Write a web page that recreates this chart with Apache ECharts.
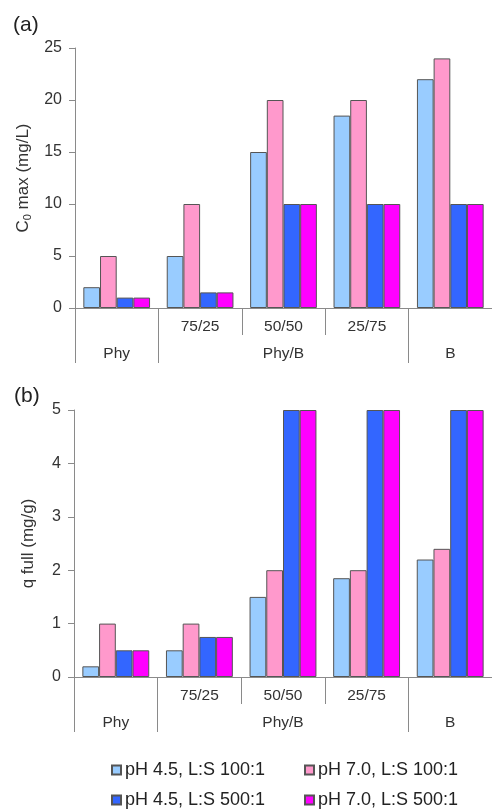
<!DOCTYPE html>
<html>
<head>
<meta charset="utf-8">
<script src="https://cdn.jsdelivr.net/npm/echarts@6/dist/echarts.min.js"></script>
<style>
  html, body { margin: 0; padding: 0; background: #fff; }
  #chart { width: 492px; height: 809px; }
</style>
</head>
<body>
<div id="chart"></div>
<script>
// Blend ratios (first row) and material groups (second row) of the category axis
const blendLabels = ['', '75/25', '50/50', '25/75', ''];
const groupLabels = ['Phy', '', 'Phy/B', '', 'B'];
const seriesNames = ['pH 4.5, L:S 100:1', 'pH 7.0, L:S 100:1', 'pH 4.5, L:S 500:1', 'pH 7.0, L:S 500:1'];
const seriesColors = ['#99CCFF', '#FF99CC', '#3366FF', '#FF00FF'];

// (a) C0 max (mg/L)
const c0_ph45_100 = [2, 5, 15, 18.5, 22];
const c0_ph70_100 = [5, 10, 20, 20, 24];
const c0_ph45_500 = [1, 1.5, 10, 10, 10];
const c0_ph70_500 = [1, 1.5, 10, 10, 10];

// (b) q full (mg/g)
const q_ph45_100 = [0.2, 0.5, 1.5, 1.85, 2.2];
const q_ph70_100 = [1, 1, 2, 2, 2.4];
const q_ph45_500 = [0.5, 0.75, 5, 5, 5];
const q_ph70_500 = [0.5, 0.75, 5, 5, 5];

const FONT = 'Liberation Sans, Arial, sans-serif';
const AXIS_GRAY = '#8a8a8a';
const TEXT = '#333';

// Group separators sit at the start of Phy, Phy/B and B
const groupTicks = (i) => i === 0 || i === 1 || i === 4 || i === 5;

function blendAxis(gridIndex) {
  return {
    type: 'category', gridIndex, position: 'bottom', offset: 0,
    data: blendLabels,
    axisLine: { show: true, lineStyle: { color: AXIS_GRAY, width: 1 } },
    axisTick: { show: true, length: 27, lineStyle: { color: AXIS_GRAY, width: 1 } },
    axisLabel: { interval: 0, margin: 11, fontSize: 15.5, color: TEXT, fontFamily: FONT }
  };
}
function groupAxis(gridIndex) {
  return {
    type: 'category', gridIndex, position: 'bottom', offset: 0,
    data: groupLabels,
    axisLine: { show: false },
    axisTick: { show: true, length: 55, interval: groupTicks, lineStyle: { color: AXIS_GRAY, width: 1 } },
    axisLabel: { interval: 0, margin: 38, fontSize: 15.5, color: TEXT, fontFamily: FONT }
  };
}
function valueAxis(gridIndex, max, interval, name, rich, gap) {
  return {
    type: 'value', gridIndex, min: 0, max, interval,
    name, nameLocation: 'middle', nameGap: gap, nameRotate: 90,
    nameTextStyle: { fontFamily: FONT, color: TEXT, fontSize: 17, rich },
    splitLine: { show: false },
    axisLine: { show: true, lineStyle: { color: AXIS_GRAY, width: 1 } },
    axisTick: { show: true, length: 6, lineStyle: { color: AXIS_GRAY } },
    axisLabel: { fontSize: 16, color: TEXT, fontFamily: FONT, margin: 13 }
  };
}

const panelA = [c0_ph45_100, c0_ph70_100, c0_ph45_500, c0_ph70_500];
const panelB = [q_ph45_100, q_ph70_100, q_ph45_500, q_ph70_500];

function barSeries(values, idx, axisIdx) {
  return {
    name: seriesNames[idx], type: 'bar',
    xAxisIndex: axisIdx, yAxisIndex: axisIdx === 0 ? 0 : 1,
    data: values,
    barGap: '0%', barCategoryGap: '20%',
    itemStyle: { color: seriesColors[idx], borderColor: '#555', borderWidth: 1 },
    emphasis: { disabled: true }
  };
}

const series = [];
panelA.forEach((v, i) => series.push(barSeries(v, i, 0)));
panelB.forEach((v, i) => series.push(barSeries(v, i, 2)));

function legendColumn(left, names) {
  return {
    orient: 'vertical', left, top: 761, width: 180, height: 70, padding: 0,
    itemWidth: 9, itemHeight: 9, itemGap: 12,
    icon: 'rect', selectedMode: false,
    data: names,
    textStyle: { fontFamily: FONT, fontSize: 18, color: '#222', lineHeight: 18, padding: [0, 0, 0, -1] }
  };
}

const chart = echarts.init(document.getElementById('chart'), null, { renderer: 'canvas' });
chart.setOption({
  animation: false,
  backgroundColor: '#fff',
  title: [
    { text: '(a)', left: 8, top: 10, textStyle: { fontFamily: FONT, fontSize: 21, fontWeight: 'normal', color: '#222' } },
    { text: '(b)', left: 9, top: 381, textStyle: { fontFamily: FONT, fontSize: 21, fontWeight: 'normal', color: '#222' } }
  ],
  grid: [
    { left: 75, top: 48, width: 425, height: 260 },
    { left: 74, top: 410, width: 426, height: 267 }
  ],
  xAxis: [blendAxis(0), groupAxis(0), blendAxis(1), groupAxis(1)],
  yAxis: [
    valueAxis(0, 25, 5, '{n|C}{s|0}{n| max (mg/L)}', {
      n: { fontSize: 17, fontFamily: FONT, color: TEXT, lineHeight: 20 },
      s: { fontSize: 11, fontFamily: FONT, color: TEXT, lineHeight: 20, verticalAlign: 'bottom' }
    }, 37),
    valueAxis(1, 5, 1, 'q full (mg/g)', {}, 37)
  ],
  legend: [
    legendColumn(111, [seriesNames[0], seriesNames[2]]),
    legendColumn(304, [seriesNames[1], seriesNames[3]])
  ],
  series
});
</script>
</body>
</html>
